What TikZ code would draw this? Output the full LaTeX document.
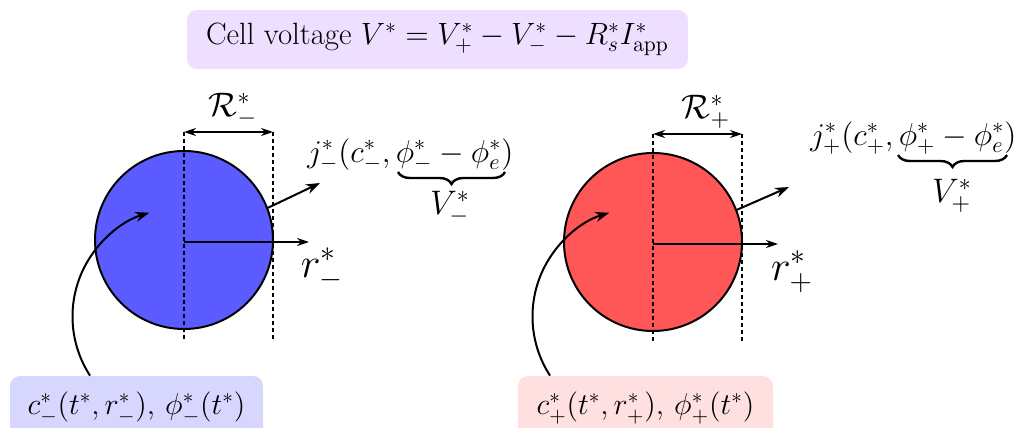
\RequirePackage{fix-cm}
\documentclass[tikz,border=0pt]{standalone}
\usetikzlibrary{arrows.meta,decorations.pathreplacing}
\definecolor{topfill}{RGB}{238,222,255}
\definecolor{negfill}{RGB}{214,214,255}
\definecolor{posfill}{RGB}{255,224,224}
\definecolor{negball}{RGB}{91,91,255}
\definecolor{posball}{RGB}{255,87,87}
\begin{document}
\begin{tikzpicture}[x=0.5pt,y=-0.5pt,
  font=\fontsize{15.1}{18}\selectfont,
  infobox/.style={rounded corners=5pt, inner sep=0pt},
  biglabel/.style={font=\fontsize{21}{24}\selectfont, inner sep=0pt},
  radlabel/.style={font=\fontsize{17}{20}\selectfont, inner sep=0pt},
  vlabel/.style={font=\fontsize{17}{20}\selectfont, inner sep=0pt},
  jlabel/.style={font=\fontsize{15.8}{18}\selectfont, anchor=base west, inner sep=0pt},
  ball/.style={circle, draw, line width=1pt, minimum size=89pt, inner sep=0pt},
  guide/.style={line width=0.6pt, dash pattern=on 2pt off 1.5pt},
  arr/.style={line width=1pt, -{Stealth[length=7pt,width=5pt]}},
  thinarr/.style={line width=0.8pt, -{Stealth[length=6pt,width=4pt]}},
  dimarr/.style={line width=0.8pt, {Stealth[length=6pt,width=4pt]}-{Stealth[length=6pt,width=4pt]}},
  curlybrace/.style={line width=1.2pt, decorate, decoration={brace, mirror, amplitude=6pt}}]
\useasboundingbox (0,0) rectangle (1018,428);

% top box
\node[infobox, fill=topfill, minimum width=250.5pt, minimum height=29.5pt,
  font=\fontsize{15.4}{18}\selectfont] (cell) at (437.5,39.5)
  {Cell voltage $V^* = V^*_+ - V^*_- - R^*_s I^*_{\mathrm{app}}$};

% bottom boxes
\node[infobox, fill=negfill, minimum width=126.5pt, minimum height=32pt] (lbox) at (136.5,408)
  {$c^*_-(t^*, r^*_-),\, \phi^*_-(t^*)$};
\node[infobox, fill=posfill, minimum width=127.5pt, minimum height=32pt] (rbox) at (645.5,408)
  {$c^*_+(t^*, r^*_+),\, \phi^*_+(t^*)$};

% balls
\node[ball, fill=negball] (lball) at (184,240) {};
\node[ball, fill=posball] (rball) at (653,242) {};

% guides
\coordinate (lgt) at (184,132); \coordinate (lgb) at (184,342);
\coordinate (lgt2) at (273,132); \coordinate (lgb2) at (273,342);
\draw[guide] (lgt) -- (lgb);
\draw[guide] (lgt2) -- (lgb2);
\coordinate (rgt) at (653,134); \coordinate (rgb) at (653,344);
\coordinate (rgt2) at (742,134); \coordinate (rgb2) at (742,344);
\draw[guide] (rgt) -- (rgb);
\draw[guide] (rgt2) -- (rgb2);

% radius dimension
\draw[dimarr] (lgt) -- (lgt2);
\node[radlabel] (lR) at (233,110) {$\mathcal{R}^*_-$};
\draw[dimarr] (rgt) -- (rgt2);
\node[radlabel] (rR) at (706,112) {$\mathcal{R}^*_+$};

% radial axis
\coordinate (lrend) at (309,242);
\draw[thinarr] (184,242) -- (lrend);
\node[biglabel] (lr) at (322,269) {$r^*_-$};
\coordinate (rrend) at (778,244);
\draw[thinarr] (653,244) -- (rrend);
\node[biglabel] (rr) at (792,272) {$r^*_+$};

% flux arrows and labels
\coordinate (ljend) at (320,183);
\draw[arr] (lball.21) -- (ljend);
\node[jlabel] (lj) at (307,162) {$j^*_-(c^*_-, \phi^*_- - \phi^*_e)$};
\coordinate (lbra) at (398,172); \coordinate (lbrb) at (505,172);
\draw[curlybrace] (lbra) -- (lbrb);
\node[vlabel] (lV) at (450,208) {$V^*_-$};

\coordinate (rjend) at (789,187);
\draw[arr] (rball.21) -- (rjend);
\node[jlabel] (rj) at (810,145) {$j^*_+(c^*_+, \phi^*_+ - \phi^*_e)$};
\coordinate (rbra) at (898,155); \coordinate (rbrb) at (1007,155);
\draw[curlybrace] (rbra) -- (rbrb);
\node[vlabel] (rV) at (952,196) {$V^*_+$};

% curved arrows
\draw[arr] ([xshift=-23.25pt]lbox.north) arc[start angle=147, end angle=253, radius=108.5];
\draw[arr] ([xshift=-47.75pt]rbox.north) arc[start angle=147, end angle=253, radius=108.5];
\end{tikzpicture}
\end{document}
